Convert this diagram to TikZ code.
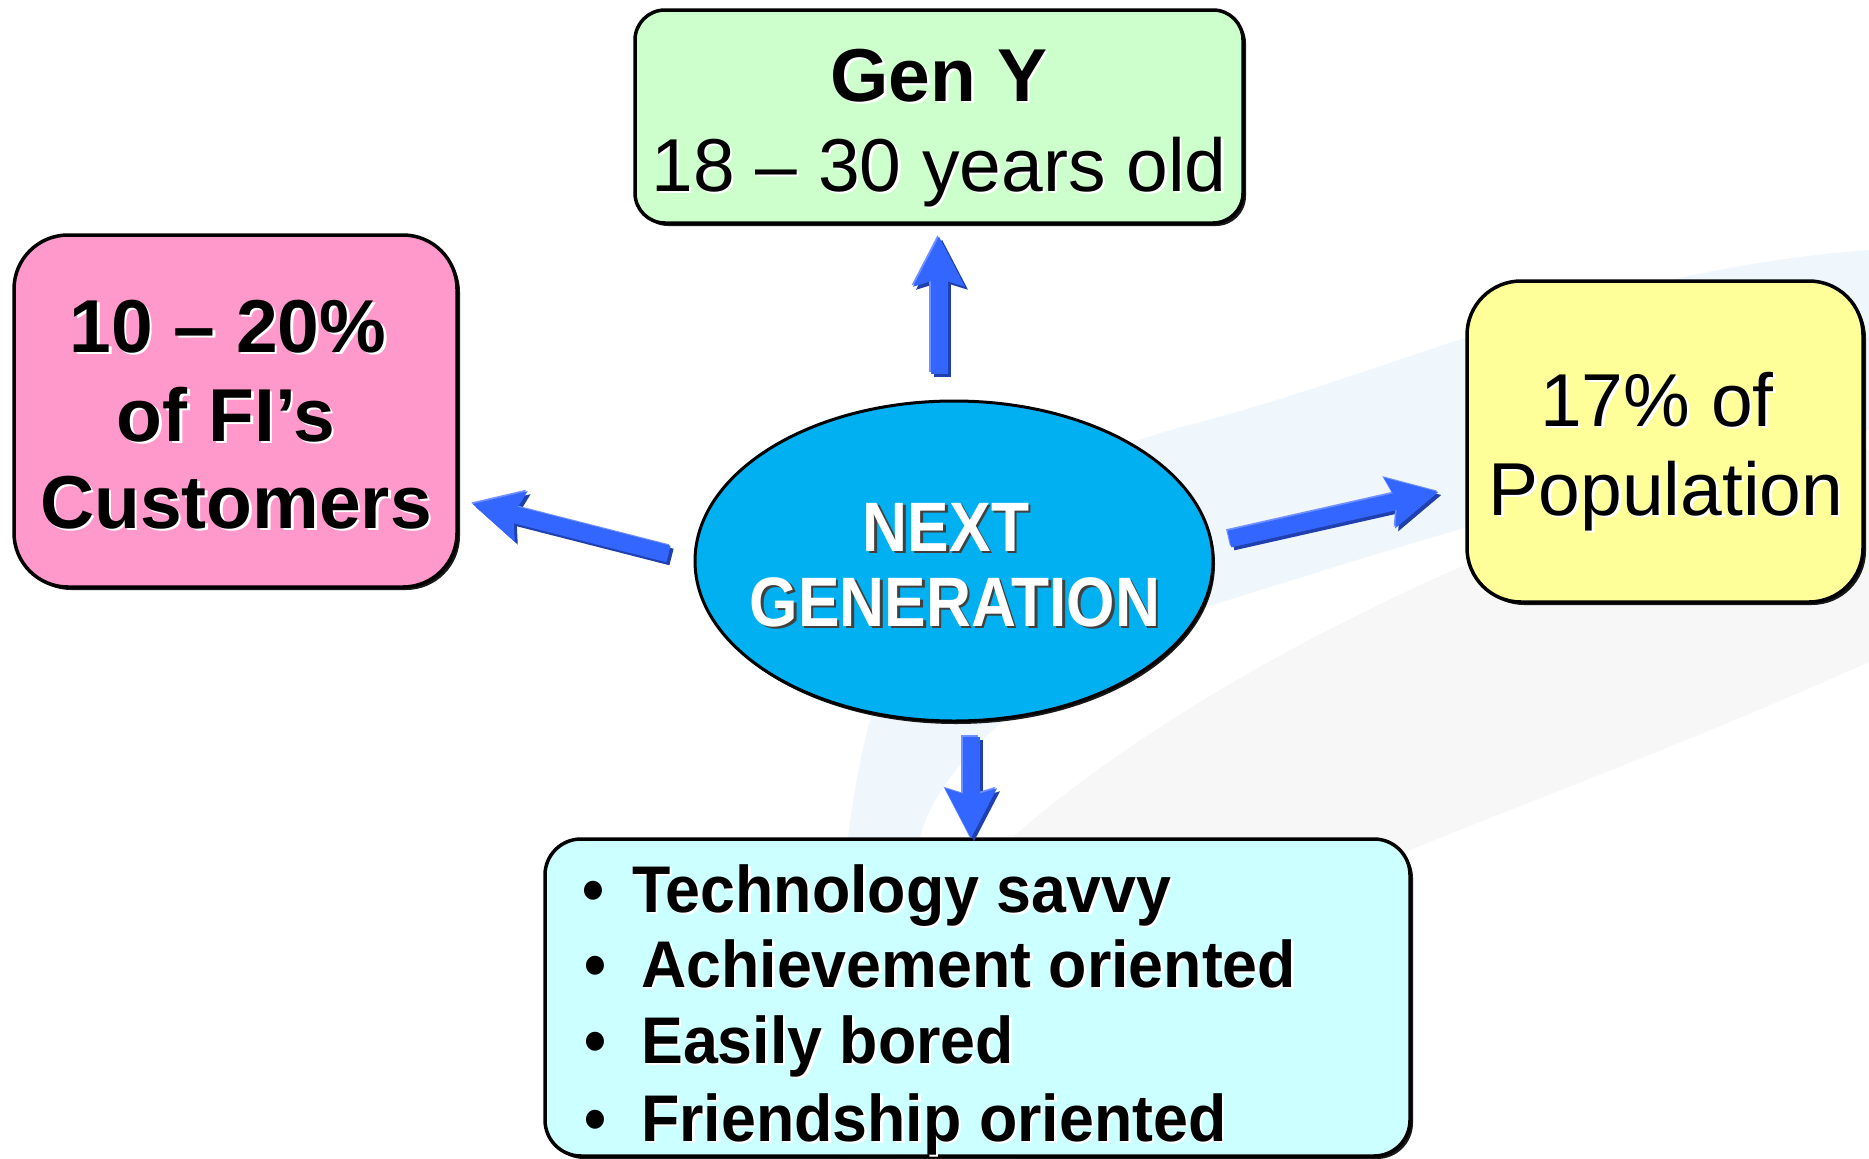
\documentclass[tikz,border=0pt]{standalone}
\usepackage{fontspec}
\setmainfont{Liberation Sans}
\newfontfamily\condfont[FakeStretch=0.89]{Liberation Sans}
\newfontfamily\listfont[FakeStretch=0.95]{Liberation Sans}
\usetikzlibrary{arrows.meta,calc,shapes.geometric,shadows}
\definecolor{genyfill}{HTML}{CCFFCC}
\definecolor{pinkfill}{HTML}{FF99CC}
\definecolor{yellfill}{HTML}{FFFF99}
\definecolor{cyanfill}{HTML}{CCFFFF}
\definecolor{ellfill}{HTML}{00B0F0}
\definecolor{arrblue}{HTML}{3366FF}
\definecolor{arrdark}{HTML}{2040B0}
\definecolor{arrlight}{HTML}{7090FF}
\definecolor{swblue}{HTML}{F0F7FC}
\definecolor{swgray}{HTML}{F7F7F7}
\newcommand{\shd}[2]{\leavevmode\rlap{\hspace{2.5pt}\raisebox{-2.5pt}{\color{#1}#2}}#2}
\begin{document}
\begin{tikzpicture}[x=1pt,y=-1pt,
  box/.style={draw=black, line width=3.5pt, rounded corners=#1, inner sep=0pt,
    drop shadow={shadow xshift=3pt, shadow yshift=-3pt, opacity=0.9, fill=black}},
  txt/.style={inner sep=0pt, anchor=base},
  bigb/.style={font=\fontsize{75}{90}\selectfont\bfseries},
  bigr/.style={font=\fontsize{75}{90}\selectfont},
  ellt/.style={font=\condfont\fontsize{70}{84}\selectfont\bfseries, text=white},
  listt/.style={inner sep=0pt, anchor=base west, font=\listfont\fontsize{66}{78}\selectfont\bfseries},
  arrtip/.style={-{Stealth[length=50pt,width=52pt,inset=8pt,line width=0pt]}},
  arrmain/.style={arrtip, line width=17pt, draw=arrblue},
  arrshade/.style={arrtip, line width=17pt, draw=arrdark, transform canvas={shift={(3pt,-3pt)}}},
  arrhi/.style={arrtip, line width=17pt, draw=arrlight, transform canvas={shift={(-1.5pt,1.5pt)}}}
]
\useasboundingbox (0,0) rectangle (1869,1159);
\fill[white] (0,0) rectangle (1869,1159);
% faint background swoosh
\fill[swblue] (835,1159) .. controls (830,650) and (900,500) .. (1200,422)
  .. controls (1400,370) and (1600,270) .. (1869,250)
  -- (1869,430) .. controls (1650,470) and (1450,530) .. (1213,605)
  .. controls (1050,660) and (940,760) .. (920,837) -- (900,1159) -- cycle;
\fill[swgray] (1013,837) .. controls (1100,760) and (1250,660) .. (1456,569)
  .. controls (1600,510) and (1750,470) .. (1869,450)
  -- (1869,662) .. controls (1650,760) and (1450,830) .. (1362,871)
  -- (1362,1159) -- (1013,1159) -- cycle;

% boxes
\node[box=30pt, fill=genyfill, minimum width=608pt, minimum height=213pt] (geny) at (939,116.5) {};
\node[box=54pt, fill=pinkfill, minimum width=443pt, minimum height=352pt] (pink) at (235.5,411) {};
\node[box=54pt, fill=yellfill, minimum width=396pt, minimum height=321pt] (yell) at (1665,441.5) {};
\node[box=36pt, fill=cyanfill, minimum width=865pt, minimum height=317pt] (list) at (977.5,997.5) {};
\node[ellipse, draw=black, line width=3pt, fill=ellfill, minimum width=518pt, minimum height=320pt,
  inner sep=0pt, drop shadow={shadow xshift=2pt, shadow yshift=-3pt, opacity=0.9, fill=black}] (c) at (954,561) {};

% texts
\node[txt, bigb] (gy1) at (939,101) {\shd{white}{Gen Y}};
\node[txt, bigr] (gy2) at (939,191) {\shd{white}{18 – 30 years old}};
\node[txt, bigb] (pk1) at (228,352) {\shd{white}{10 – 20\%}};
\node[txt, bigb] (pk2) at (226,441) {\shd{white}{of FI’s}};
\node[txt, bigb] (pk3) at (236,528) {\shd{white}{Customers}};
\node[txt, bigr] (yl1) at (1657,426) {\shd{white}{17\% of}};
\node[txt, bigr] (yl2) at (1666,515) {\shd{white}{Population}};
\node[txt, ellt] (el1) at (946,551) {\shd{black!75}{NEXT}};
\node[txt, ellt] (el2) at (955,626) {\shd{black!75}{GENERATION}};
\node[listt] (b1) at (582,912) {•};
\node[listt] (b2) at (584,987) {•};
\node[listt] (b3) at (584,1063) {•};
\node[listt] (b4) at (584,1141) {•};
\node[listt] (l1) at (632,912) {\shd{white}{Technology savvy}};
\node[listt] (l2) at (641,987) {\shd{white}{Achievement oriented}};
\node[listt] (l3) at (641,1063) {\shd{white}{Easily bored}};
\node[listt] (l4) at (641,1141) {\shd{white}{Friendship oriented}};

% arrows
\foreach \s in {arrshade, arrhi, arrmain}{
  \draw[\s] ($(c.north)+(-15,-26)$) -- ($(geny.south)+(0,12)$);
  \draw[\s] ($(c.south)+(17,14)$) -- ($(list.north)+(-6.5,1)$);
  \draw[\s] ($(c.west)+(-25,-7)$) -- ($(pink.east)+(14,93)$);
  \draw[\s] ($(c.east)+(15,-22)$) -- ($(yell.west)+(-27,50.5)$);
}
\end{tikzpicture}
\end{document}
